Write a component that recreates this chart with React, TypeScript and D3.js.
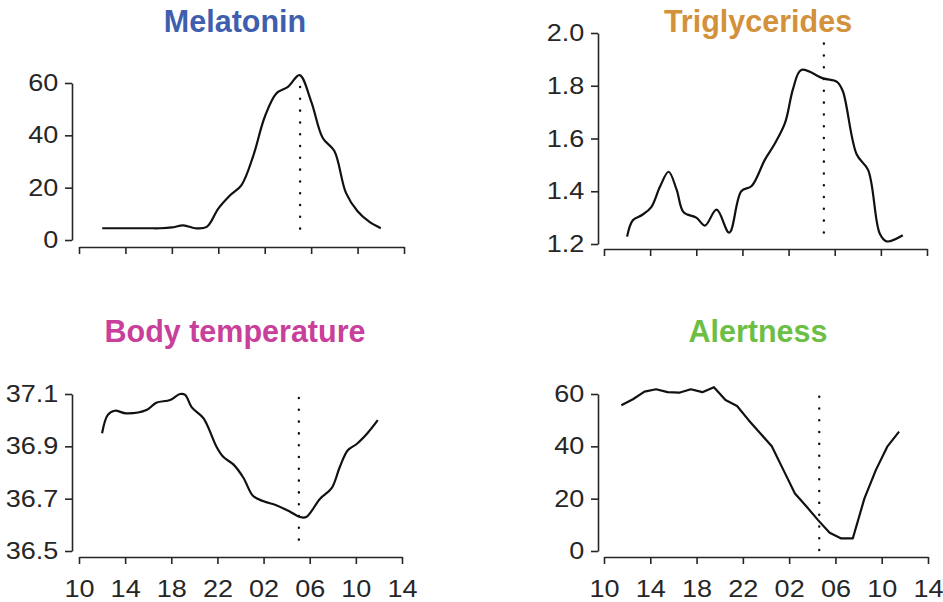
import React, { useEffect, useRef } from 'react';
import * as d3 from 'd3';

// clock hours on the x axis (10 = 10:00 day 1, 38 = 14:00 day 2)
const X_TICKS = [10, 14, 18, 22, 26, 30, 34, 38];
const X_LABELS = ['10', '14', '18', '22', '02', '06', '10', '14'];

const MELATONIN_HOURS = [12, 13, 14, 15, 16, 17, 18, 19, 20, 21, 22, 23, 24, 25, 26, 27, 28, 29, 30, 31, 32, 33, 34, 35, 36];
const MELATONIN = [4.5, 4.5, 4.5, 4.5, 4.5, 4.5, 4.8, 5.6, 4.5, 5, 12, 17, 21, 32, 47, 56, 58.5, 63, 53, 39, 34, 18, 11, 7, 4.5];

const TRIG_HOURS = [12, 12.5, 13.3, 14.1, 14.85, 15.6, 16.3, 16.9, 18.0, 18.75, 19.76, 20.86, 21.9, 22.8, 23.95, 24.8, 25.7, 26.4, 27.1, 29.0, 30.2, 30.7, 31.9, 32.9, 33.9, 34.5, 35.9];
const TRIG = [1.228, 1.29, 1.31, 1.34, 1.417, 1.474, 1.405, 1.32, 1.30, 1.27, 1.33, 1.243, 1.40, 1.42, 1.52, 1.58, 1.66, 1.79, 1.86, 1.828, 1.815, 1.78, 1.54, 1.48, 1.24, 1.21, 1.233];

const TEMP_HOURS = [12, 12.5, 13.1, 14.1, 15.9, 16.7, 17.9, 18.75, 19.2, 19.76, 20.8, 21.9, 22.5, 23.4, 24.25, 25.1, 26.0, 27.1, 28.3, 29.15, 29.7, 30.9, 31.9, 32.6, 33.3, 34.1, 35.0, 35.9];
const TEMP = [36.95, 37.02, 37.036, 37.026, 37.04, 37.067, 37.077, 37.1, 37.097, 37.05, 37.007, 36.9, 36.86, 36.83, 36.78, 36.71, 36.69, 36.675, 36.65, 36.63, 36.63, 36.70, 36.74, 36.82, 36.885, 36.91, 36.95, 37.0];

const ALERT_HOURS = [11.5, 12.5, 13.5, 14.5, 15.5, 16.5, 17.5, 18.5, 19.5, 20.5, 21.5, 22.5, 23.5, 24.5, 25.5, 26.5, 27.5, 28.5, 29.5, 30.5, 31.5, 32.5, 33.5, 34.5, 35.5];
const ALERT = [55.7, 58, 60.9, 61.8, 60.7, 60.5, 61.8, 60.7, 62.6, 57.7, 55.4, 50, 45, 40, 31, 22, 17, 11.8, 7, 4.8, 4.8, 20, 31, 40, 45.6];

const MELATONIN_TICKS = [0, 20, 40, 60];
const TRIG_TICKS = [1.2, 1.4, 1.6, 1.8, 2.0];
const TEMP_TICKS = [36.5, 36.7, 36.9, 37.1];
const ALERT_TICKS = [0, 20, 40, 60];

const panels = [
  {
    title: 'Melatonin', color: '#3f5fae', titleX: 235, titleY: 32,
    hours: MELATONIN_HOURS, values: MELATONIN, smooth: true,
    yDomain: [0, 60], yRange: [240, 83], yTicks: MELATONIN_TICKS, fmt: d3.format('d'),
    axisX: 72, xRange: [79, 404], xAxisY: 247, labels: false,
    marker: 29.05, markerTop: 58.5,
  },
  {
    title: 'Triglycerides', color: '#d2913a', titleX: 758, titleY: 32,
    hours: TRIG_HOURS, values: TRIG, smooth: true,
    yDomain: [1.2, 2.0], yRange: [244, 33], yTicks: TRIG_TICKS, fmt: d3.format('.1f'),
    axisX: 598, xRange: [604, 927], xAxisY: 249, labels: false,
    marker: 29.06, markerTop: 1.96,
  },
  {
    title: 'Body temperature', color: '#c8409a', titleX: 235, titleY: 342,
    hours: TEMP_HOURS, values: TEMP, smooth: true,
    yDomain: [36.5, 37.1], yRange: [551, 394], yTicks: TEMP_TICKS, fmt: d3.format('.1f'),
    axisX: 72, xRange: [79, 402], xAxisY: 557, labels: true,
    marker: 29.06, markerTop: 37.085,
  },
  {
    title: 'Alertness', color: '#6cbf44', titleX: 758, titleY: 342,
    hours: ALERT_HOURS, values: ALERT, smooth: false,
    yDomain: [0, 60], yRange: [551, 394], yTicks: ALERT_TICKS, fmt: d3.format('d'),
    axisX: 598, xRange: [604, 928], xAxisY: 557, labels: true,
    marker: 28.6, markerTop: 59,
  },
];

const FONT = '"Liberation Sans", Arial, Helvetica, sans-serif';
const INK = '#262626';
const STRETCH = 1.15; // tick labels in the source are a bit wider than Arial

export default function App() {
  const svgRef = useRef<SVGSVGElement | null>(null);

  useEffect(() => {
    const svg = d3.select(svgRef.current);
    svg.selectAll('*').remove();

    panels.forEach(p => {
      const x = d3.scaleLinear().domain([10, 38]).range(p.xRange);
      const y = d3.scaleLinear().domain(p.yDomain).range(p.yRange);
      const g = svg.append('g');

      // title
      g.append('text')
        .attr('x', p.titleX)
        .attr('y', p.titleY)
        .attr('text-anchor', 'middle')
        .attr('font-family', FONT)
        .attr('font-weight', 'bold')
        .attr('font-size', 30.5)
        .attr('fill', p.color)
        .text(p.title);

      // y axis
      const yAxis = d3.axisLeft(y)
        .tickValues(p.yTicks)
        .tickFormat(p.fmt as any)
        .tickSizeInner(7)
        .tickSizeOuter(0)
        .tickPadding(5);
      const ya = g.append('g')
        .attr('transform', `translate(${p.axisX},0)`)
        .call(yAxis);

      // x axis
      const xAxis = d3.axisBottom(x)
        .tickValues(X_TICKS)
        .tickFormat((d, i) => (p.labels ? X_LABELS[i] : ''))
        .tickSizeInner(7)
        .tickSizeOuter(0)
        .tickPadding(16);
      const xa = g.append('g')
        .attr('transform', `translate(0,${p.xAxisY})`)
        .call(xAxis);

      [ya, xa].forEach(a => {
        a.select('.domain').attr('stroke', INK).attr('stroke-width', 1.6);
        a.selectAll('.tick line').attr('stroke', INK).attr('stroke-width', 1.6);
        a.selectAll('.tick text')
          .attr('font-family', FONT)
          .attr('font-size', 23.5)
          .attr('fill', INK)
          .attr('transform', `scale(${STRETCH},1)`);
      });

      // dotted marker
      g.append('line')
        .attr('x1', x(p.marker))
        .attr('x2', x(p.marker))
        .attr('y1', y(p.markerTop))
        .attr('y2', y(p.yDomain[0]))
        .attr('stroke', '#111')
        .attr('stroke-width', 2.4)
        .attr('stroke-linecap', 'round')
        .attr('stroke-dasharray', '0.1 11.7');

      // curve
      const line = d3.line<number>()
        .x((d, i) => x(p.hours[i]))
        .y(d => y(d))
        .curve(p.smooth ? d3.curveCatmullRom.alpha(0.5) : d3.curveLinear);

      g.append('path')
        .attr('d', line(p.values))
        .attr('fill', 'none')
        .attr('stroke', '#111')
        .attr('stroke-width', 2.2)
        .attr('stroke-linejoin', 'round');
    });
  }, []);

  return (
    <svg ref={svgRef} width={943} height={602}
      style={{ position: 'absolute', left: 0, top: 0, background: '#fff' }} />
  );
}
